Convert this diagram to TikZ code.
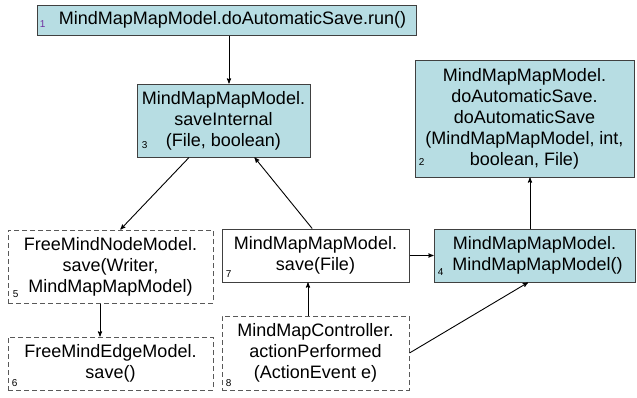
\documentclass[tikz,border=0pt]{standalone}
\usepackage{fontspec}
\setmainfont{Liberation Sans}
\usetikzlibrary{arrows}
\definecolor{boxblue}{RGB}{183,221,227}
\definecolor{numpurple}{RGB}{112,48,160}

\begin{document}
\begin{tikzpicture}[x=1pt,y=-1pt,>=stealth',line width=0.9pt,
		method/.style={rectangle, draw=black!75, line width=1pt, align=center, inner sep=0pt, font=\fontsize{18}{21}\selectfont},
		called/.style={method, fill=boxblue},
		unsure/.style={method, draw=black!65, dash pattern=on 5pt off 3pt},
		num/.style={anchor=base west, inner sep=0pt, font=\fontsize{10}{10}\selectfont}]
				\useasboundingbox (0,0) rectangle (637,397);

				\node[called, minimum width=379pt, minimum height=30pt] (doSaveRun) at (226.5,20) {\hspace*{12pt}MindMapMapModel.doAutomaticSave.run()};
				\node[called, minimum width=173pt, minimum height=73pt] (saveInternal) at (223.5,120.5) {MindMapMapModel.\\saveInternal\\(File, boolean)};
				\node[called, minimum width=219pt, minimum height=117pt] (doSave) at (524.5,118.5) {MindMapMapModel.\\doAutomaticSave.\\doAutomaticSave\\(MindMapMapModel, int,\\boolean, File)};
				\node[unsure, minimum width=205pt, minimum height=73pt] (nodeSave) at (110.5,266.5) {FreeMindNodeModel.\\save(Writer,\\MindMapMapModel)};
				\node[method, minimum width=187pt, minimum height=53pt] (mapSave) at (315.5,255.5) {MindMapMapModel.\\save(File)};
				\node[called, minimum width=201pt, minimum height=53pt] (mapModel) at (534.5,255.5) {MindMapMapModel.\\\hspace*{6pt}MindMapMapModel()};
				\node[unsure, minimum width=205pt, minimum height=53pt] (edgeSave) at (110.5,363.5) {FreeMindEdgeModel.\\save()};
				\node[unsure, minimum width=187pt, minimum height=74pt] (actionPerformed) at (315.5,353) {MindMapController.\\actionPerformed\\(ActionEvent e)};

				% call order
				\node[num, text=numpurple] at ([xshift=3pt,yshift=8pt]doSaveRun.south west) {1};
				\node[num] at ([xshift=4pt,yshift=12pt]doSave.south west) {2};
				\node[num] at ([xshift=5pt,yshift=9pt]saveInternal.south west) {3};
				\node[num] at ([xshift=4pt,yshift=7pt]mapModel.south west) {4};
				\node[num] at ([xshift=5pt,yshift=6pt]nodeSave.south west) {5};
				\node[num] at ([xshift=4pt,yshift=4pt]edgeSave.south west) {6};
				\node[num] at ([xshift=4pt,yshift=5pt]mapSave.south west) {7};
				\node[num] at ([xshift=4pt,yshift=4pt]actionPerformed.south west) {8};

				\path[->] ([xshift=2.5pt]doSaveRun.south) edge ([xshift=2.5pt]doSaveRun.south |- saveInternal.north)
						  (saveInternal.227.5) edge (nodeSave.75.4)
						  (mapSave.97.5) edge (saveInternal.310)
						  (mapSave.east) edge (mapModel.west)
						  ([xshift=-4.5pt]mapModel.north) edge ([xshift=-4.5pt]mapModel.north |- doSave.south)
						  ([xshift=-10.5pt]nodeSave.south) edge ([xshift=-10.5pt]nodeSave.south |- edgeSave.north)
						  ([xshift=-7.5pt]actionPerformed.north) edge ([xshift=-7.5pt]actionPerformed.north |- mapSave.south)
						  (actionPerformed.east) edge ([xshift=-6.5pt]mapModel.south);

			\end{tikzpicture}
\end{document}
